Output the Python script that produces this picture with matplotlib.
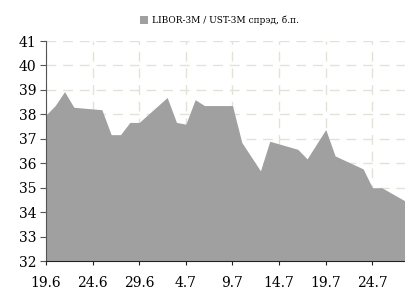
import matplotlib as mpl
mpl.use('Agg')
import matplotlib.pyplot as plt
import matplotlib.dates as mdates
import pandas as pd

# data (spread, basis points)
dates = ['2017-06-19', '2017-06-20', '2017-06-21', '2017-06-22', '2017-06-25',
         '2017-06-26', '2017-06-27', '2017-06-28', '2017-06-29', '2017-07-02',
         '2017-07-03', '2017-07-04', '2017-07-05', '2017-07-06', '2017-07-09',
         '2017-07-10', '2017-07-12', '2017-07-13', '2017-07-16', '2017-07-17',
         '2017-07-19', '2017-07-20', '2017-07-23', '2017-07-24', '2017-07-25',
         '2017-07-28']
spread = [37.97, 38.36, 38.93, 38.29, 38.19,
          37.17, 37.17, 37.67, 37.67, 38.69,
          37.67, 37.60, 38.60, 38.36, 38.36,
          36.85, 35.69, 36.90, 36.57, 36.18,
          37.38, 36.30, 35.77, 35.00, 35.00,
          34.35]
tick_dates = ['2017-06-19', '2017-06-24', '2017-06-29', '2017-07-04',
              '2017-07-09', '2017-07-14', '2017-07-19', '2017-07-24']
y_ticks = [32, 33, 34, 35, 36, 37, 38, 39, 40, 41]
legend_label = 'LIBOR-3M / UST-3M спрэд, б.п.'

x = pd.to_datetime(dates)
xt = pd.to_datetime(tick_dates)

plt.rcParams['font.family'] = ['DejaVu Serif']

fig = plt.figure(figsize=(4.06, 2.91), dpi=100)
ax = fig.add_axes([0.113, 0.103, 0.887, 0.756])

ax.fill_between(x, spread, 32, color='#a0a0a0', linewidth=0, label=legend_label, zorder=2)

ax.set_ylim(32, 41)
ax.set_xlim(x[0], x[0] + pd.Timedelta(days=38.6))
ax.set_yticks(y_ticks)
ax.set_xticks(xt)
ax.xaxis.set_major_formatter(mpl.ticker.FuncFormatter(
    lambda v, p: '%d.%d' % (mdates.num2date(v).day, mdates.num2date(v).month)))

ax.grid(True, color='#e2e2d6', linestyle=(0, (7, 5)), linewidth=1, zorder=1)
ax.set_axisbelow(True)
for s in ['top', 'right']:
    ax.spines[s].set_visible(False)
ax.spines['left'].set_color('#555555')
ax.spines['bottom'].set_color('#222222')
ax.spines['left'].set_zorder(3)
ax.spines['bottom'].set_zorder(3)
ax.tick_params(axis='y', length=4, pad=3, labelsize=10, color='#555555')
ax.tick_params(axis='x', length=3, pad=8, labelsize=10, color='#222222')

fig.legend(loc='upper center', bbox_to_anchor=(0.54, 0.975), frameon=False,
           fontsize=6.5, handlelength=0.9, handleheight=0.9, handletextpad=0.4)

plt.savefig('out.png', dpi=100)
